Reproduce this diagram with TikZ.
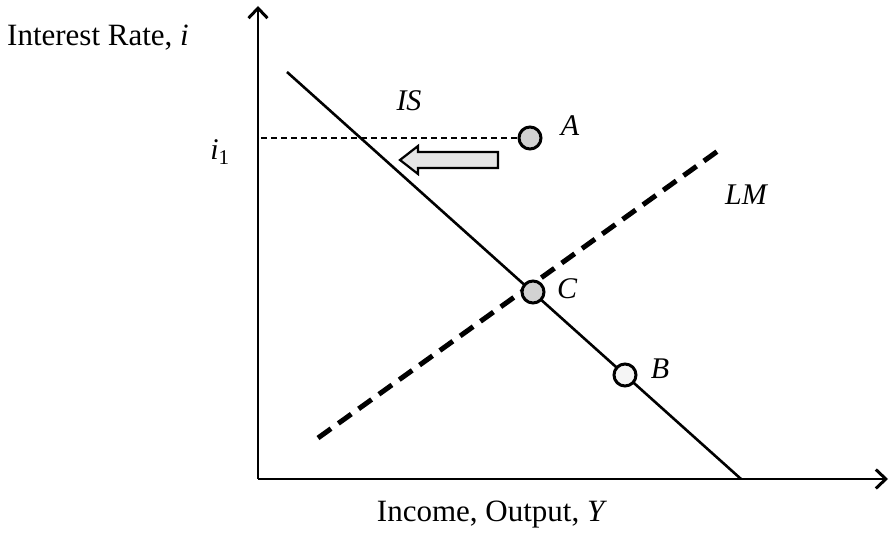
\documentclass[tikz,border=0pt]{standalone}
\usepackage{fontspec}
\setmainfont{Liberation Serif}
\usetikzlibrary{arrows.meta}
\begin{document}
\begin{tikzpicture}[x=1pt,y=-1pt,
  axis/.style={line width=2.2pt,-{Straight Barb[length=10pt,width=19pt,line width=3pt]}},
  isline/.style={line width=2.6pt},
  lmline/.style={line width=5pt,dash pattern=on 16pt off 9pt},
  guide/.style={line width=1.3pt,dash pattern=on 6pt off 4pt},
  pt/.style={circle,draw,line width=3pt,minimum size=22pt,inner sep=0pt},
  lbl/.style={font=\fontsize{30}{33}\selectfont\itshape,inner sep=0pt},
  axlbl/.style={font=\fontsize{31}{34}\selectfont,inner sep=0pt}]
\useasboundingbox (0,0) rectangle (892,534);
\coordinate (O) at (258,479);
\coordinate (ytop) at (258,6);
\coordinate (xend) at (888,479);
\draw[axis] (O) -- (ytop);
\draw[axis] (O) -- (xend);
\coordinate (is1) at (287,72);
\coordinate (is2) at (741,479);
\draw[isline] (is1) -- (is2);
\coordinate (lm1) at (318,438);
\coordinate (lm2) at (722,148);
\draw[lmline] (lm1) -- (lm2);
\node[pt,fill=gray!35] (A) at (530,138) {};
\coordinate (g1) at (261,138);
\draw[guide] (g1) -- (A.west);
\node[pt,fill=gray!35] (C) at (533,292) {};
\node[pt,fill=gray!8] (B) at (625,375) {};
\draw[line width=2.2pt,fill=gray!20] (498,152) -- (418,152) -- (418,146) -- (400,160) -- (418,174) -- (418,168) -- (498,168) -- cycle;
\node[lbl] (la) at (570,126) {A};
\node[lbl] (lc) at (567,289) {C};
\node[lbl] (lb) at (660,369) {B};
\node[lbl] (lis) at (409,101) {IS};
\node[lbl] (llm) at (746,195) {LM};
\node[lbl] (li) at (220,152) {i\textsubscript{\upshape 1}};
\node[axlbl,anchor=west] (yl) at (7,38) {Interest Rate, \textit{i}};
\node[axlbl] (xl) at (492,515) {Income, Output, \textit{Y}};
\end{tikzpicture}
\end{document}
